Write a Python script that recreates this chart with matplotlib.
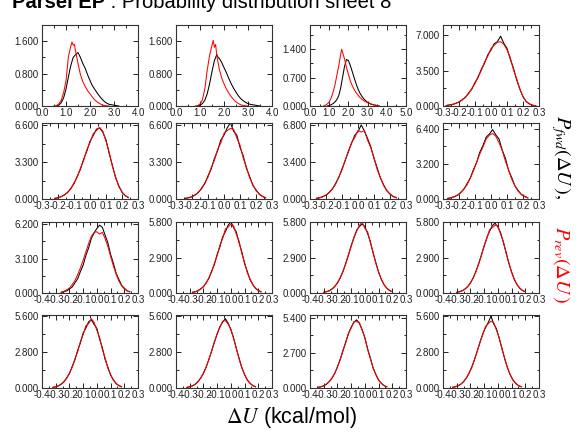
"""
Probability distributions of dU, forward (black) and reverse (red), 4x4 sheet
"""

import numpy as np
import matplotlib
matplotlib.use("Agg")
import matplotlib.pyplot as plt
from matplotlib.ticker import MultipleLocator, FuncFormatter

plt.rcParams['font.family'] = ['Liberation Sans', 'DejaVu Sans']
plt.rcParams['mathtext.fontset'] = 'stix'
plt.rcParams['axes.unicode_minus'] = False

# data - row 1 ================================================================
x_r1c1_fwd = [0.6, 0.7, 0.8, 0.9, 1.0, 1.1, 1.2, 1.3, 1.4, 1.5, 1.6, 1.7, 1.8,
              1.9, 2.0, 2.1, 2.2, 2.3, 2.4, 2.5, 2.6, 2.7, 2.8, 2.9, 3.0, 3.2]
p_r1c1_fwd = [0.0, 0.02, 0.08, 0.2, 0.42, 0.72, 1.0, 1.2, 1.27, 1.32, 1.2, 1.05,
              0.93, 0.77, 0.63, 0.5, 0.41, 0.32, 0.24, 0.17, 0.11, 0.07, 0.04,
              0.03, 0.02, 0.0]
x_r1c1_rev = [0.5, 0.6, 0.7, 0.8, 0.9, 1.0, 1.1, 1.2, 1.25, 1.3, 1.35, 1.4, 1.5,
              1.6, 1.7, 1.8, 1.9, 2.0, 2.1, 2.2, 2.3, 2.4, 2.5, 2.6, 2.8]
p_r1c1_rev = [0.0, 0.01, 0.05, 0.14, 0.33, 0.62, 1.22, 1.48, 1.58, 1.5, 1.52,
              1.35, 1.05, 0.78, 0.6, 0.48, 0.38, 0.3, 0.22, 0.15, 0.1, 0.06,
              0.03, 0.01, 0.0]

x_r1c2_fwd = [0.9, 1.0, 1.1, 1.2, 1.3, 1.4, 1.5, 1.6, 1.7, 1.75, 1.8, 1.9, 2.0,
              2.1, 2.2, 2.3, 2.4, 2.5, 2.6, 2.7, 2.8, 2.9, 3.0, 3.1, 3.2, 3.4, 3.5]
p_r1c2_fwd = [0.0, 0.02, 0.06, 0.14, 0.3, 0.55, 0.85, 1.12, 1.27, 1.2, 1.18,
              1.08, 0.95, 0.82, 0.68, 0.55, 0.44, 0.34, 0.25, 0.18, 0.13, 0.09,
              0.06, 0.04, 0.03, 0.01, 0.0]
x_r1c2_rev = [0.8, 0.9, 1.0, 1.1, 1.2, 1.3, 1.4, 1.5, 1.55, 1.6, 1.65, 1.7, 1.8,
              1.9, 2.0, 2.1, 2.2, 2.3, 2.4, 2.5, 2.6, 2.7, 2.8, 3.0]
p_r1c2_rev = [0.0, 0.01, 0.05, 0.15, 0.42, 0.88, 1.25, 1.5, 1.62, 1.45, 1.52,
              1.25, 0.92, 0.7, 0.55, 0.42, 0.32, 0.23, 0.16, 0.1, 0.06, 0.03,
              0.01, 0.0]

x_r1c3_fwd = [0.9, 1.0, 1.1, 1.2, 1.3, 1.4, 1.5, 1.6, 1.7, 1.8, 1.9, 2.0, 2.1,
              2.2, 2.3, 2.4, 2.5, 2.6, 2.7, 2.8, 2.9, 3.0, 3.2, 3.4, 3.6]
p_r1c3_fwd = [0.0, 0.01, 0.03, 0.06, 0.1, 0.16, 0.26, 0.45, 0.72, 0.98, 1.15,
              1.12, 1.0, 0.85, 0.7, 0.55, 0.42, 0.32, 0.24, 0.18, 0.13, 0.09,
              0.04, 0.02, 0.0]
x_r1c3_rev = [0.7, 0.8, 0.9, 1.0, 1.1, 1.2, 1.3, 1.4, 1.5, 1.6, 1.65, 1.7, 1.8,
              1.9, 2.0, 2.1, 2.2, 2.3, 2.4, 2.5, 2.6, 2.8, 3.0, 3.3, 3.6]
p_r1c3_rev = [0.0, 0.02, 0.05, 0.1, 0.2, 0.34, 0.52, 0.76, 1.0, 1.28, 1.4, 1.32,
              1.16, 0.95, 0.78, 0.62, 0.5, 0.41, 0.33, 0.27, 0.21, 0.13, 0.08,
              0.03, 0.0]

x_r1c4 = [-0.28, -0.26, -0.24, -0.22, -0.20, -0.18, -0.16, -0.14, -0.12, -0.10,
          -0.08, -0.06, -0.04, -0.02, 0.0, 0.02, 0.04, 0.06, 0.08, 0.10, 0.12,
          0.14, 0.16, 0.18, 0.20, 0.22, 0.24, 0.26, 0.28]
p_r1c4_fwd = [0.04, 0.11, 0.15, 0.27, 0.38, 0.63, 0.85, 1.28, 1.66, 2.32, 2.84,
              3.65, 4.24, 5.06, 5.52, 6.15, 6.35, 6.90, 6.20, 5.70, 4.65, 3.75,
              2.60, 1.70, 0.90, 0.45, 0.20, 0.08, 0.02]
p_r1c4_rev = [0.06, 0.09, 0.17, 0.24, 0.42, 0.58, 0.91, 1.20, 1.75, 2.20, 2.95,
              3.52, 4.36, 4.92, 5.68, 6.00, 6.30, 6.35, 6.10, 5.55, 4.80, 3.60,
              2.72, 1.66, 0.95, 0.42, 0.22, 0.07, 0.03]

# data - row 2 ================================================================
x_r2c1 = [-0.22, -0.20, -0.18, -0.16, -0.14, -0.12, -0.10, -0.08, -0.06, -0.04,
          -0.02, 0.0, 0.02, 0.04, 0.06, 0.08, 0.10, 0.12, 0.14, 0.16, 0.18,
          0.20, 0.22, 0.24]
p_r2c1_fwd = [0.05, 0.12, 0.20, 0.38, 0.57, 0.95, 1.36, 2.02, 2.64, 3.55, 4.26,
              5.15, 5.66, 6.22, 6.35, 5.95, 5.28, 4.05, 3.00, 1.88, 1.18, 0.60,
              0.31, 0.12]
p_r2c1_rev = [0.07, 0.10, 0.23, 0.34, 0.62, 0.90, 1.44, 1.95, 2.75, 3.42, 4.40,
              5.02, 5.82, 6.10, 6.38, 6.05, 5.15, 4.18, 2.90, 1.97, 1.10, 0.65,
              0.28, 0.15]

x_r2c2 = [-0.24, -0.22, -0.20, -0.18, -0.16, -0.14, -0.12, -0.10, -0.08, -0.06,
          -0.04, -0.02, 0.0, 0.02, 0.04, 0.06, 0.08, 0.10, 0.12, 0.14, 0.16,
          0.18, 0.20, 0.22, 0.24, 0.26]
p_r2c2_fwd = [0.05, 0.13, 0.20, 0.38, 0.58, 0.97, 1.37, 2.06, 2.68, 3.62, 4.30,
              5.26, 5.70, 6.35, 6.80, 6.05, 5.70, 4.62, 3.86, 2.75, 2.02, 1.22,
              0.82, 0.42, 0.25, 0.10]
p_r2c2_rev = [0.07, 0.10, 0.22, 0.34, 0.62, 0.90, 1.45, 1.95, 2.80, 3.45, 4.42,
              5.00, 5.85, 6.10, 6.30, 6.22, 5.45, 4.80, 3.65, 2.86, 1.90, 1.30,
              0.74, 0.47, 0.22, 0.13]

x_r2c3 = [-0.26, -0.24, -0.22, -0.20, -0.18, -0.16, -0.14, -0.12, -0.10, -0.08,
          -0.06, -0.04, -0.02, 0.0, 0.02, 0.04, 0.06, 0.08, 0.10, 0.12, 0.14,
          0.16, 0.18, 0.20, 0.22, 0.24]
p_r2c3_fwd = [0.07, 0.11, 0.22, 0.35, 0.61, 0.92, 1.43, 1.98, 2.76, 3.52, 4.41,
              5.12, 5.86, 6.18, 6.80, 6.25, 5.55, 4.80, 3.72, 2.86, 1.92, 1.31,
              0.75, 0.47, 0.22, 0.13]
p_r2c3_rev = [0.05, 0.12, 0.20, 0.37, 0.57, 0.95, 1.36, 2.03, 2.66, 3.58, 4.30,
              5.20, 5.65, 6.30, 6.15, 6.28, 5.40, 4.70, 3.80, 2.70, 1.98, 1.24,
              0.80, 0.43, 0.25, 0.11]

x_r2c4 = [-0.27, -0.25, -0.23, -0.21, -0.19, -0.17, -0.15, -0.13, -0.11, -0.09,
          -0.07, -0.05, -0.03, -0.01, 0.01, 0.03, 0.05, 0.07, 0.09, 0.11, 0.13,
          0.15, 0.17, 0.19, 0.21, 0.23]
p_r2c4_fwd = [0.05, 0.12, 0.21, 0.33, 0.59, 0.87, 1.38, 1.88, 2.66, 3.32, 4.25,
              4.86, 5.62, 5.90, 6.30, 5.82, 5.45, 4.45, 3.70, 2.60, 1.93, 1.18,
              0.77, 0.40, 0.24, 0.10]
p_r2c4_rev = [0.07, 0.10, 0.19, 0.36, 0.55, 0.92, 1.28, 1.88, 2.55, 3.32, 4.10,
              4.72, 5.45, 5.80, 5.95, 5.70, 5.12, 4.42, 3.45, 2.62, 1.78, 1.20,
              0.70, 0.42, 0.21, 0.12]

# data - row 3 ================================================================
x_r3c1 = x_r2c3
p_r3c1_fwd = [0.05, 0.12, 0.19, 0.36, 0.54, 0.91, 1.28, 1.93, 2.50, 3.38, 4.05,
              4.92, 5.40, 5.80, 6.10, 5.90, 5.20, 4.52, 3.48, 2.70, 1.80, 1.24,
              0.70, 0.44, 0.20, 0.12]
p_r3c1_rev = [0.08, 0.16, 0.28, 0.45, 0.75, 1.12, 1.65, 2.25, 2.95, 3.70, 4.45,
              5.10, 5.45, 5.50, 5.30, 5.45, 4.90, 4.20, 3.30, 2.45, 1.70, 1.10,
              0.66, 0.38, 0.20, 0.10]

x_r3c2 = [-0.28, -0.26, -0.24, -0.22, -0.20, -0.18, -0.16, -0.14, -0.12, -0.10,
          -0.08, -0.06, -0.04, -0.02, 0.0, 0.02, 0.04, 0.06, 0.08, 0.10, 0.12,
          0.14, 0.16, 0.18, 0.20, 0.22]
p_r3c2_fwd = [0.05, 0.11, 0.17, 0.34, 0.51, 0.85, 1.20, 1.80, 2.34, 3.16, 3.78,
              4.60, 5.02, 5.55, 5.85, 5.35, 5.00, 4.10, 3.38, 2.40, 1.76, 1.08,
              0.70, 0.37, 0.22, 0.09]
p_r3c2_rev = [0.07, 0.09, 0.20, 0.30, 0.55, 0.80, 1.27, 1.72, 2.45, 3.05, 3.92,
              4.45, 5.25, 5.40, 5.65, 5.50, 4.80, 4.25, 3.22, 2.52, 1.66, 1.15,
              0.65, 0.41, 0.19, 0.12]

x_r3c3 = [-0.30, -0.28, -0.26, -0.24, -0.22, -0.20, -0.18, -0.16, -0.14, -0.12,
          -0.10, -0.08, -0.06, -0.04, -0.02, 0.0, 0.02, 0.04, 0.06, 0.08, 0.10,
          0.12, 0.14, 0.16, 0.18, 0.20]
p_r3c3_fwd = [0.06, 0.10, 0.19, 0.31, 0.54, 0.81, 1.25, 1.74, 2.42, 3.08, 3.88,
              4.50, 5.15, 5.45, 5.65, 5.45, 4.88, 4.22, 3.28, 2.50, 1.70, 1.14,
              0.67, 0.40, 0.20, 0.11]
p_r3c3_rev = [0.05, 0.11, 0.17, 0.34, 0.51, 0.85, 1.21, 1.79, 2.36, 3.14, 3.80,
              4.58, 5.05, 5.55, 5.80, 5.30, 5.02, 4.12, 3.36, 2.42, 1.75, 1.10,
              0.70, 0.38, 0.22, 0.09]

x_r3c4 = x_r3c3
p_r3c4_fwd = [0.05, 0.11, 0.18, 0.33, 0.52, 0.84, 1.22, 1.78, 2.38, 3.12, 3.82,
              4.55, 5.08, 5.52, 5.72, 5.40, 4.95, 4.15, 3.34, 2.44, 1.74, 1.10,
              0.69, 0.38, 0.21, 0.10]
p_r3c4_rev = [0.06, 0.10, 0.19, 0.31, 0.54, 0.80, 1.26, 1.73, 2.43, 3.06, 3.90,
              4.48, 5.20, 5.35, 5.55, 5.52, 4.82, 4.24, 3.25, 2.50, 1.68, 1.14,
              0.66, 0.41, 0.19, 0.12]

# data - row 4 ================================================================
x_r4c1 = [-0.32, -0.30, -0.28, -0.26, -0.24, -0.22, -0.20, -0.18, -0.16, -0.14,
          -0.12, -0.10, -0.08, -0.06, -0.04, -0.02, 0.0, 0.02, 0.04, 0.06, 0.08,
          0.10, 0.12, 0.14, 0.16, 0.18]
p_r4c1_fwd = [0.05, 0.10, 0.16, 0.31, 0.47, 0.79, 1.11, 1.68, 2.18, 2.94, 3.50,
              4.28, 4.66, 5.15, 5.30, 4.95, 4.64, 3.80, 3.14, 2.22, 1.64, 1.00,
              0.66, 0.34, 0.20, 0.08]
p_r4c1_rev = [0.06, 0.08, 0.18, 0.28, 0.51, 0.74, 1.18, 1.60, 2.27, 2.82, 3.62,
              4.14, 4.85, 5.00, 5.40, 5.10, 4.48, 3.95, 3.00, 2.35, 1.54, 1.07,
              0.60, 0.38, 0.18, 0.11]

x_r4c2 = x_r4c1
p_r4c2_fwd = [0.04, 0.10, 0.17, 0.29, 0.50, 0.77, 1.16, 1.62, 2.25, 2.86, 3.60,
              4.18, 4.78, 5.12, 5.40, 5.05, 4.52, 3.90, 3.05, 2.32, 1.56, 1.06,
              0.61, 0.37, 0.18, 0.10]
p_r4c2_rev = [0.06, 0.09, 0.16, 0.31, 0.48, 0.78, 1.12, 1.66, 2.20, 2.91, 3.53,
              4.25, 4.70, 5.20, 5.25, 4.98, 4.60, 3.84, 3.10, 2.25, 1.62, 1.02,
              0.65, 0.35, 0.20, 0.09]

x_r4c3 = [-0.34, -0.32, -0.30, -0.28, -0.26, -0.24, -0.22, -0.20, -0.18, -0.16,
          -0.14, -0.12, -0.10, -0.08, -0.06, -0.04, -0.02, 0.0, 0.02, 0.04, 0.06,
          0.08, 0.10, 0.12, 0.14, 0.16]
p_r4c3_fwd = [0.05, 0.09, 0.17, 0.29, 0.48, 0.75, 1.13, 1.60, 2.20, 2.85, 3.52,
              4.15, 4.68, 5.05, 5.25, 4.98, 4.50, 3.85, 3.02, 2.28, 1.56, 1.03,
              0.62, 0.36, 0.18, 0.10]
p_r4c3_rev = [0.06, 0.10, 0.16, 0.31, 0.50, 0.77, 1.10, 1.65, 2.16, 2.90, 3.46,
              4.22, 4.60, 5.12, 5.10, 5.05, 4.45, 3.90, 2.98, 2.32, 1.52, 1.06,
              0.60, 0.37, 0.19, 0.09]

x_r4c4 = [-0.33, -0.31, -0.29, -0.27, -0.25, -0.23, -0.21, -0.19, -0.17, -0.15,
          -0.13, -0.11, -0.09, -0.07, -0.05, -0.03, -0.01, 0.01, 0.03, 0.05, 0.07,
          0.09, 0.11, 0.13, 0.15, 0.17]
p_r4c4_fwd = [0.05, 0.10, 0.17, 0.30, 0.49, 0.78, 1.14, 1.64, 2.20, 2.90, 3.55,
              4.22, 4.70, 5.10, 5.60, 4.98, 4.60, 3.85, 3.10, 2.26, 1.60, 1.02,
              0.64, 0.35, 0.19, 0.09]
p_r4c4_rev = [0.06, 0.09, 0.18, 0.29, 0.50, 0.75, 1.17, 1.60, 2.25, 2.84, 3.60,
              4.15, 4.80, 5.00, 5.20, 5.08, 4.50, 3.92, 3.02, 2.32, 1.56, 1.06,
              0.61, 0.38, 0.18, 0.11]

# axis settings (row-major) ===================================================
XLIMS = [(0, 4), (0, 4), (0, 5), (-0.3, 0.3)] + [(-0.3, 0.3)] * 4 \
        + [(-0.4, 0.3)] * 8
XSTEPS = [1.0, 1.0, 1.0, 0.1] + [0.1] * 12
YSTEPS = [0.8, 0.8, 0.7, 3.5, 3.3, 3.3, 3.4, 3.2,
          3.1, 2.9, 2.9, 2.9, 2.8, 2.8, 2.7, 2.8]
YMAX = [2.0, 2.0, 2.0, 8.0, 6.78, 6.78, 6.98, 6.9,
        6.38, 5.82, 5.82, 5.82, 5.68, 5.68, 5.62, 5.68]

# panel geometry in pixels
COL_LEFT = [42, 176, 310, 443]
COL_WIDTH = 96
ROW_TOP = [25, 123, 222, 315]
ROW_BOTTOM = [106, 199, 293, 388]
W, H = 586, 432


def main():

    panels = [
        (x_r1c1_fwd, p_r1c1_fwd, x_r1c1_rev, p_r1c1_rev),
        (x_r1c2_fwd, p_r1c2_fwd, x_r1c2_rev, p_r1c2_rev),
        (x_r1c3_fwd, p_r1c3_fwd, x_r1c3_rev, p_r1c3_rev),
        (x_r1c4, p_r1c4_fwd, x_r1c4, p_r1c4_rev),
        (x_r2c1, p_r2c1_fwd, x_r2c1, p_r2c1_rev),
        (x_r2c2, p_r2c2_fwd, x_r2c2, p_r2c2_rev),
        (x_r2c3, p_r2c3_fwd, x_r2c3, p_r2c3_rev),
        (x_r2c4, p_r2c4_fwd, x_r2c4, p_r2c4_rev),
        (x_r3c1, p_r3c1_fwd, x_r3c1, p_r3c1_rev),
        (x_r3c2, p_r3c2_fwd, x_r3c2, p_r3c2_rev),
        (x_r3c3, p_r3c3_fwd, x_r3c3, p_r3c3_rev),
        (x_r3c4, p_r3c4_fwd, x_r3c4, p_r3c4_rev),
        (x_r4c1, p_r4c1_fwd, x_r4c1, p_r4c1_rev),
        (x_r4c2, p_r4c2_fwd, x_r4c2, p_r4c2_rev),
        (x_r4c3, p_r4c3_fwd, x_r4c3, p_r4c3_rev),
        (x_r4c4, p_r4c4_fwd, x_r4c4, p_r4c4_rev),
    ]

    fig = plt.figure(figsize=(W / 100, H / 100), dpi=100)

    xfmt = FuncFormatter(lambda v, pos: '%.1f' % (round(v, 3) + 0.0))
    yfmt = FuncFormatter(lambda v, pos: '%.3f' % (round(v, 4) + 0.0))

    for i, (xf, yf, xr, yr) in enumerate(panels):
        row, col = divmod(i, 4)
        rect = [COL_LEFT[col] / W, 1 - ROW_BOTTOM[row] / H,
                COL_WIDTH / W, (ROW_BOTTOM[row] - ROW_TOP[row]) / H]
        ax = fig.add_axes(rect)
        ax.plot(xf, yf, color='k', lw=0.75)
        ax.plot(xr, yr, color='r', lw=0.75)

        ax.set_xlim(XLIMS[i])
        ax.set_ylim(0, YMAX[i])
        ax.xaxis.set_major_locator(MultipleLocator(XSTEPS[i]))
        ax.xaxis.set_minor_locator(MultipleLocator(XSTEPS[i] / 2))
        ax.yaxis.set_major_locator(MultipleLocator(YSTEPS[i]))
        ax.yaxis.set_minor_locator(MultipleLocator(YSTEPS[i] / 2))
        ax.xaxis.set_major_formatter(xfmt)
        ax.yaxis.set_major_formatter(yfmt)

        ax.tick_params(which='both', direction='in', top=True, right=True,
                       width=0.7, colors='#222222', labelsize=7)
        ax.tick_params(which='major', length=3.5)
        ax.tick_params(which='minor', length=1.8)
        ax.tick_params(axis='x', pad=1.5)
        ax.tick_params(axis='y', pad=2.5)
        for spine in ax.spines.values():
            spine.set_linewidth(0.8)
            spine.set_color('#333333')

    # title, cut at the top edge as in the sheet
    t1 = fig.text(12 / W, 1 - 8 / H, 'Parsel EP', fontsize=14.5,
                  fontweight='bold', va='baseline', ha='left')
    fig.axes[0].annotate(' : Probability distribution sheet 8',
                         xy=(1, 0), xycoords=t1, fontsize=14.5,
                         va='bottom', ha='left', annotation_clip=False)

    # axis labels
    fig.text(291 / W, 1 - 417 / H, r'$\Delta U$ (kcal/mol)', fontsize=15.5,
             ha='center', va='center')
    fig.text(561 / W, 1 - 115 / H, r'$P_{fwd}(\Delta U\,),$', fontsize=14.5,
             rotation=270, ha='center', va='top', color='k')
    fig.text(561 / W, 1 - 303 / H, r'$P_{rev}(\Delta U\,)$', fontsize=14.5,
             rotation=270, ha='center', va='bottom', color='r')

    fig.savefig("out.png", dpi=100)


if __name__ == "__main__":
    main()
